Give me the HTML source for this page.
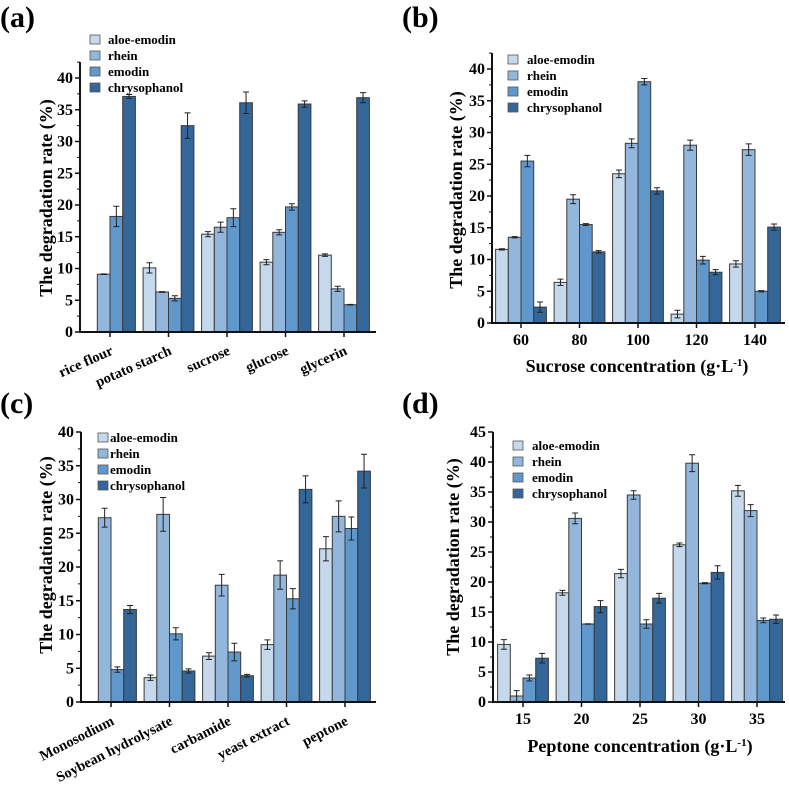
<!DOCTYPE html>
<html><head><meta charset="utf-8">
<style>
html,body{margin:0;padding:0;background:#fff;}
svg{display:block;font-family:"Liberation Serif",serif;font-weight:bold;}
</style></head>
<body>
<svg id="fig" width="789" height="791" viewBox="0 0 789 791" xmlns="http://www.w3.org/2000/svg"></svg>
<script>
const seriesNames = ["aloe-emodin","rhein","emodin","chrysophanol"];
const colors = ["#c5d8ec","#93b7dc","#6198cc","#336699"];

const aCats = ["rice flour","potato starch","sucrose","glucose","glycerin"];
const aAloe = [0,10.1,15.4,11.0,12.1];
const aRhein = [9.1,6.3,16.5,15.7,6.8];
const aEmodin = [18.2,5.3,18.0,19.7,4.3];
const aChryso = [37.1,32.5,36.1,35.9,36.9];
const aAloeErr = [0,0.8,0.4,0.4,0.2];
const aRheinErr = [0.05,0.05,0.8,0.4,0.4];
const aEmodinErr = [1.6,0.4,1.4,0.5,0.05];
const aChrysoErr = [0.3,2.0,1.7,0.5,0.8];
const aTicks = [0,5,10,15,20,25,30,35,40];

const bCats = ["60","80","100","120","140"];
const bAloe = [11.6,6.4,23.5,1.4,9.3];
const bRhein = [13.5,19.5,28.3,28.0,27.3];
const bEmodin = [25.5,15.5,38.0,9.9,5.0];
const bChryso = [2.5,11.2,20.8,8.0,15.1];
const bAloeErr = [0.1,0.5,0.6,0.6,0.5];
const bRheinErr = [0.1,0.7,0.7,0.8,0.9];
const bEmodinErr = [0.9,0.15,0.5,0.6,0.1];
const bChrysoErr = [0.8,0.2,0.5,0.4,0.5];
const bTicks = [0,5,10,15,20,25,30,35,40];

const cCats = ["Monosodium","Soybean hydrolysate","carbamide","yeast extract","peptone"];
const cAloe = [0,3.6,6.8,8.5,22.7];
const cRhein = [27.3,27.8,17.3,18.8,27.5];
const cEmodin = [4.8,10.1,7.4,15.3,25.7];
const cChryso = [13.7,4.6,3.9,31.5,34.2];
const cAloeErr = [0,0.4,0.5,0.7,1.8];
const cRheinErr = [1.4,2.5,1.6,2.1,2.3];
const cEmodinErr = [0.4,0.9,1.3,1.5,1.7];
const cChrysoErr = [0.6,0.3,0.2,2.0,2.5];
const cTicks = [0,5,10,15,20,25,30,35,40];

const dCats = ["15","20","25","30","35"];
const dAloe = [9.6,18.2,21.4,26.2,35.2];
const dRhein = [1.0,30.6,34.5,39.8,31.9];
const dEmodin = [4.0,13.0,13.0,19.8,13.6];
const dChryso = [7.3,15.9,17.3,21.6,13.8];
const dAloeErr = [0.8,0.4,0.7,0.3,0.9];
const dRheinErr = [0.9,0.9,0.7,1.4,1.0];
const dEmodinErr = [0.5,0.05,0.7,0.1,0.4];
const dChrysoErr = [0.8,1.0,0.8,1.1,0.7];
const dTicks = [0,5,10,15,20,25,30,35,40,45];

const NS="http://www.w3.org/2000/svg";
const svg=document.getElementById('fig');
function mk(tag,attrs,parent,text){const e=document.createElementNS(NS,tag);for(const k in attrs)e.setAttribute(k,attrs[k]);if(text!==undefined)e.textContent=text;(parent||svg).appendChild(e);return e;}

function panel(cfg){
  const g=mk('g',{});
  
  
  const {x0,x1,y0,yTop,vmax,axisTopV,cx0,step,bw}=cfg;
  const ys=v=>y0-(v/vmax)*(y0-yTop);
  const pl=mk('text',{x:cfg.lx,y:cfg.ly,'font-size':30},g,'('+cfg.id+')');
  
  
  cfg.series.forEach((vals,si)=>{
    vals.forEach((v,ci)=>{
      const cx=cx0+ci*step;
      const bx=cx-2*bw+si*bw;
      if(v>0){
        const r=mk('rect',{x:bx,y:ys(v),width:bw,height:y0-ys(v),fill:colors[si],stroke:'#3a3a3a','stroke-width':1},g);
        
        
        const e=cfg.errs[si][ci];
        const mx=bx+bw/2;
        const eb=mk('path',{d:`M${mx-3} ${ys(v+e)}H${mx+3}M${mx} ${ys(v+e)}V${ys(v-e)}M${mx-3} ${ys(v-e)}H${mx+3}`,stroke:'#222','stroke-width':1,fill:'none'},g);
        
        
      }
    });
  });
  const ax=mk('path',{d:`M${x0} ${ys(axisTopV)}V${y0}H${x1}`,stroke:'#111','stroke-width':2,fill:'none'},g);
  
  
  cfg.ticks.forEach((t,i)=>{
    const y=ys(t);
    mk('line',{x1:x0-5,x2:x0,y1:y,y2:y,stroke:'#111','stroke-width':1.5},g);
    if(i<cfg.ticks.length-1||t+2.5<=axisTopV){const ym=ys(t+2.5);mk('line',{x1:x0-3,x2:x0,y1:ym,y2:ym,stroke:'#111','stroke-width':1},g);}
    const tl=mk('text',{x:x0-7,y:y+5,'font-size':16,'text-anchor':'end'},g,String(t));
    
    
  });
  cfg.cats.forEach((c,ci)=>{
    const cx=cx0+ci*step;
    mk('line',{x1:cx,x2:cx,y1:y0,y2:y0+5,stroke:'#111','stroke-width':1.5},g);
    let t;
    if(cfg.rot){
      t=mk('text',{x:cx+4,y:y0+22,'font-size':14.5,'text-anchor':'end',transform:`rotate(${cfg.rot} ${cx+4} ${y0+22})`},g,c);
    } else {
      t=mk('text',{x:cx,y:y0+22,'font-size':16,'text-anchor':'middle'},g,c);
    }
    
    
  });
  const yt=mk('text',{x:cfg.ytx,y:cfg.yty,'font-size':18,'text-anchor':'middle',transform:`rotate(-90 ${cfg.ytx} ${cfg.yty})`},g,cfg.ytitle);
  
  
  if(cfg.xtitle){
    const xt=mk('text',{x:cfg.xtx,y:cfg.xty,'font-size':18,'text-anchor':'middle'},g);
    
    
    mk('tspan',{},xt,cfg.xtitle+' (g·L');
    mk('tspan',{dy:-6,'font-size':11},xt,'-1');
    mk('tspan',{dy:6},xt,')');
  }
  seriesNames.forEach((n,si)=>{
    const ly=cfg.legY+si*16;
    const lg=mk('g',{},g);
    
    
    mk('rect',{x:cfg.legX,y:ly-5,width:10,height:9,fill:colors[si],stroke:'#555','stroke-width':0.8},lg);
    mk('text',{x:cfg.legX+cfg.legGap,y:ly+4,'font-size':13},lg,n);
  });
}

panel({id:'a',x0:80,x1:376,y0:332,yTop:78,vmax:40,axisTopV:42.5,cx0:110,step:58.5,bw:12.7,
  cats:aCats,series:[aAloe,aRhein,aEmodin,aChryso],errs:[aAloeErr,aRheinErr,aEmodinErr,aChrysoErr],ticks:aTicks,
  rot:-24,ytitle:'The degradation rate (%)',ytx:52,yty:198,legX:90,legY:40,legGap:18,lx:0,ly:27});
panel({id:'b',x0:492,x1:785,y0:323,yTop:69,vmax:40,axisTopV:42.5,cx0:521,step:58.5,bw:12.7,
  cats:bCats,series:[bAloe,bRhein,bEmodin,bChryso],errs:[bAloeErr,bRheinErr,bEmodinErr,bChrysoErr],ticks:bTicks,
  ytitle:'The degradation rate (%)',ytx:462,yty:190,xtitle:'Sucrose concentration',xtx:637,xty:372,legX:508,legY:60,legGap:19,lx:402,ly:27});
panel({id:'c',x0:81,x1:376,y0:702,yTop:432,vmax:40,axisTopV:40,cx0:111,step:58.5,bw:12.7,
  cats:cCats,series:[cAloe,cRhein,cEmodin,cChryso],errs:[cAloeErr,cRheinErr,cEmodinErr,cChrysoErr],ticks:cTicks,
  rot:-27,ytitle:'The degradation rate (%)',ytx:52,yty:555,legX:98,legY:438,legGap:12,lx:0,ly:413});
panel({id:'d',x0:493,x1:785,y0:702,yTop:432,vmax:45,axisTopV:45,cx0:523,step:58.5,bw:12.7,
  cats:dCats,series:[dAloe,dRhein,dEmodin,dChryso],errs:[dAloeErr,dRheinErr,dEmodinErr,dChrysoErr],ticks:dTicks,
  ytitle:'The degradation rate (%)',ytx:459,yty:557,xtitle:'Peptone concentration',xtx:640,xty:752,legX:513,legY:446,legGap:19,lx:402,ly:413});
</script>
</body></html>
